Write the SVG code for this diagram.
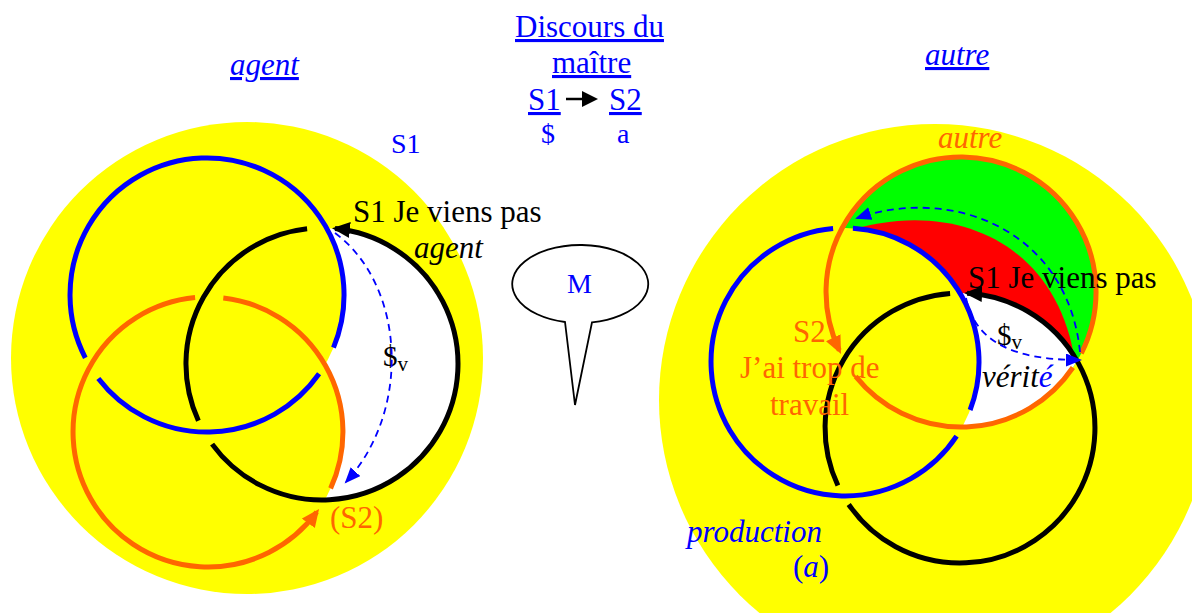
<svg xmlns="http://www.w3.org/2000/svg" width="1192" height="613" viewBox="0 0 1192 613">
<style>
text { font-family: "Liberation Serif", "Times New Roman", serif; font-size: 31px; }
.bl { fill: #0000FF; }
.or { fill: #FF6600; }
.bk { fill: #000000; }
.it { font-style: italic; }
.ul { text-decoration: underline; }
.ring { fill: none; stroke-width: 5; }
.rb { stroke: #0000FF; }
.ro { stroke: #FF6600; }
.rk { stroke: #000000; }
.dash { fill: none; stroke: #0000FF; stroke-width: 1.8; stroke-dasharray: 7 5; }
</style>
<defs>
  <marker id="ahK" markerUnits="userSpaceOnUse" markerWidth="20" markerHeight="18" refX="15" refY="8" orient="auto">
    <path d="M0,0 L18,8 L0,16 Z" fill="#000000"/>
  </marker>
  <marker id="ahO" markerUnits="userSpaceOnUse" markerWidth="20" markerHeight="18" refX="14" refY="8" orient="auto">
    <path d="M0,0 L18,8 L0,16 Z" fill="#FF6600"/>
  </marker>
  <marker id="ahB" markerUnits="userSpaceOnUse" markerWidth="18" markerHeight="16" refX="14" refY="6.5" orient="auto">
    <path d="M0,0 L16,6.5 L0,13 Z" fill="#0000FF"/>
  </marker>
  <clipPath id="clipOrR"><circle cx="961" cy="292" r="135"/></clipPath>
</defs>

<g id="title">
  <text class="bl ul" x="515" y="37">Discours du</text>
  <text class="bl ul" x="552" y="73">maître</text>
  <text class="bl ul" x="528" y="110">S1</text>
  <text class="bl ul" x="609" y="110">S2</text>
  <text class="bl" x="541" y="143" style="font-size:28px">$</text>
  <text class="bl" x="617" y="143" style="font-size:28px">a</text>
</g>

<g id="left-label">
  <text class="bl it ul" x="230" y="75">agent</text>
</g>
<g id="right-label">
  <text class="bl it ul" x="925" y="65">autre</text>
</g>

<g id="bubble-M">
  <path d="M592,322.4 A68,39 0 1 0 565,322 L575,405 Z" fill="#FFFFFF" stroke="#000000" stroke-width="1.8"/>
  <text class="bl" x="567" y="293" style="font-size:28px">M</text>
</g>

<g id="left-figure">
  <g id="left-fills">
    <circle cx="247" cy="358" r="236" fill="#FFFF00"/>
    <circle cx="322" cy="364" r="136" fill="#FFFFFF"/>
    <circle cx="207" cy="295" r="137" fill="#FFFF00"/>
    <circle cx="208" cy="432" r="135" fill="#FFFF00"/>
  </g>
  <g id="left-blue-ring">
    <path class="ring rb" d="M85.3,357.8 A137,137 0 1 1 333.5,347.6"/>
    <path class="ring rb" d="M319.1,373.8 A137,137 0 0 1 98.3,378.4"/>
  </g>
  <g id="left-orange-ring">
    <path class="ring ro" d="M223.3,297.9 A135,135 0 0 1 330.6,488.4"/>
    <path class="ring ro" d="M195.1,297.6 A135,135 0 1 0 316.7,512.1" marker-end="url(#ahO)"/>
  </g>
  <g id="left-black-ring">
    <path class="ring rk" d="M307.1,228.8 A136,136 0 0 0 198.4,420.8"/>
    <path class="ring rk" d="M212.1,444.1 A136,136 0 1 0 335,228.6" marker-end="url(#ahK)"/>
  </g>
  <g id="left-texts">
    <text class="bl" x="391" y="153" style="font-size:28px">S1</text>
    <text class="bk" x="353" y="222">S1 Je viens pas</text>
    <text class="bk it" x="414" y="258">agent</text>
    <text class="bk" x="383" y="366" style="font-size:29px">$<tspan dy="5" style="font-size:21px">v</tspan></text>
    <text class="or" x="330" y="528">(S2)</text>
  </g>
</g>

<g id="right-figure">
  <g id="right-fills">
    <circle cx="935" cy="400" r="276" fill="#FFFF00"/>
    <circle cx="961" cy="292" r="135" fill="#00FF00"/>
    <path d="M845,232 C950,197 1057,240 1075,362 L1000,410 L850,320 Z" fill="#FF0000" clip-path="url(#clipOrR)"/>
    <circle cx="960" cy="428" r="135" fill="#FFFFFF" clip-path="url(#clipOrR)"/>
    <circle cx="845" cy="362" r="134" fill="#FFFF00"/>
  </g>
  <g id="right-blue-ring">
    <path class="ring rb" d="M852.9,228.2 A134,134 0 0 1 970.1,410"/>
    <path class="ring rb" d="M956.6,436.2 A134,134 0 1 1 833.1,228.5"/>
  </g>
  <g id="right-orange-ring">
    <path class="ring ro" d="M855.6,376.4 A135,135 0 0 0 1072.9,367.5"/>
    <path class="ring ro" d="M1081.3,353.3 A135,135 0 1 0 839.3,350.3" marker-end="url(#ahO)"/>
  </g>
  <g id="right-black-ring">
    <path class="ring rk" d="M950.1,293.4 A135,135 0 0 0 837.9,485.5"/>
    <path class="ring rk" d="M848.7,504.5 A135,135 0 1 0 967.1,293.2" marker-end="url(#ahK)"/>
  </g>
  <g id="right-texts">
    <text class="or it" x="938" y="148">autre</text>
    <text class="bk" x="968" y="288">S1 Je viens pas</text>
    <text class="or" x="793" y="342">S2</text>
    <text class="or" x="740" y="378">J’ai trop de</text>
    <text class="or" x="770" y="415">travail</text>
    <text class="bk" x="997" y="345" style="font-size:29px">$<tspan dy="4" style="font-size:21px">v</tspan></text>
    <text class="bk it" x="982" y="387">vérit<tspan class="bl">é</tspan></text>
    <text class="bl it" x="687" y="542">production</text>
    <text class="bl" x="793" y="577">(<tspan class="it">a</tspan>)</text>
  </g>
</g>

<g id="connectors">
  <line x1="566" y1="99" x2="584" y2="99" stroke="#000000" stroke-width="2.5"/>
  <path d="M582,91 L598,99 L582,107 Z" fill="#000000"/>
  <path class="dash" d="M335,233 C405,285 412,410 346,482" marker-end="url(#ahB)"/>
  <path class="dash" d="M1080,352 C1068,232 955,185 857,218" marker-end="url(#ahB)"/>
  <path class="dash" d="M966,298 C975,340 1010,360 1080,360" marker-end="url(#ahB)"/>
</g>
</svg>
